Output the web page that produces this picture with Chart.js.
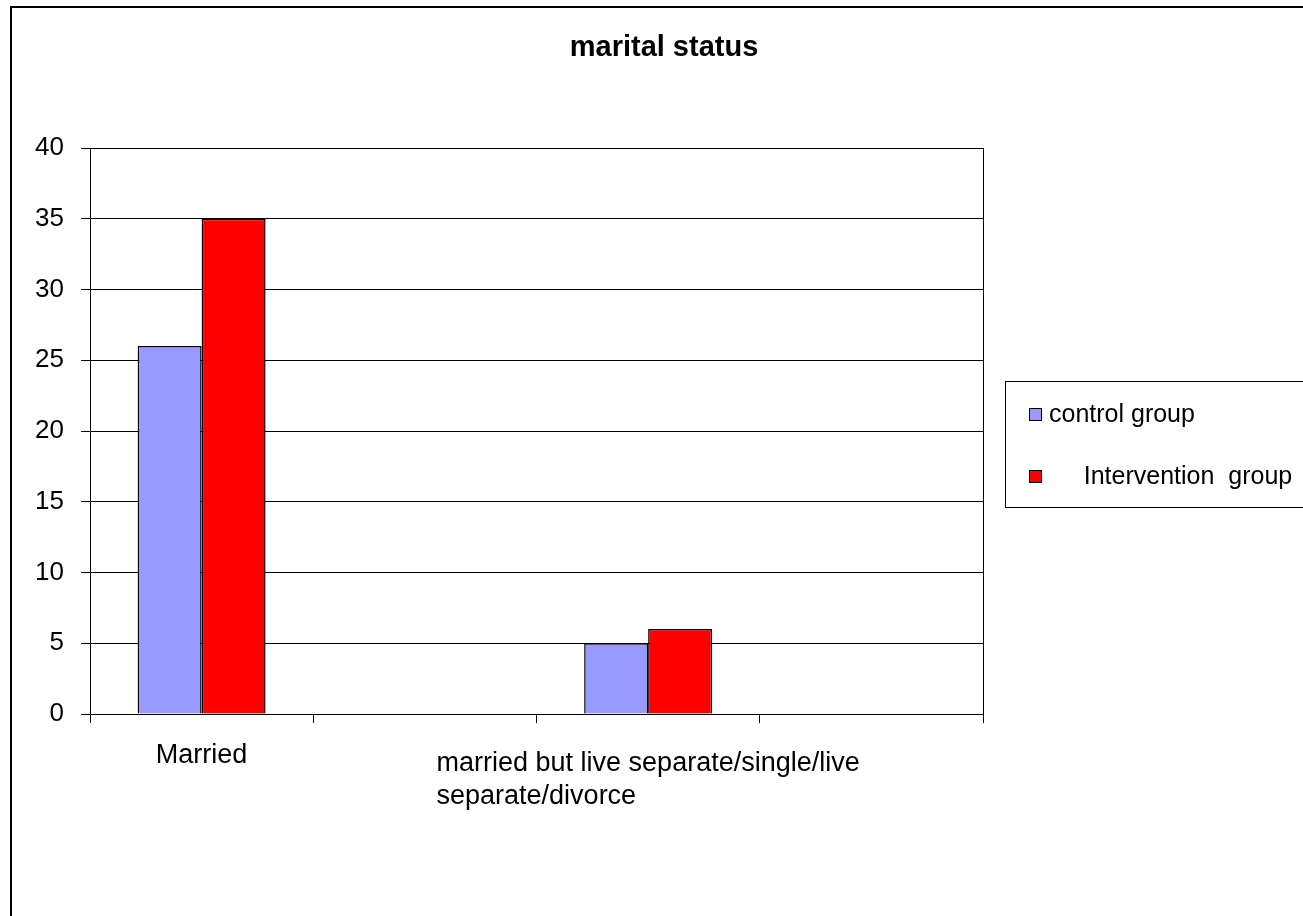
<!DOCTYPE html>
<html>
<head>
<meta charset="utf-8">
<title>marital status</title>
<script src="https://cdn.jsdelivr.net/npm/chart.js@4.4.0/dist/chart.umd.min.js"></script>
<style>
  html, body { margin: 0; padding: 0; background: #fff; }
</style>
</head>
<body>
<canvas id="marital-chart" width="1303" height="916"></canvas>
<script>
const chartTitle = 'marital status';
const categories = [['Married'], [''], ['married but live separate/single/live', 'separate/divorce'], ['']];
const controlGroup = [26, null, 5, null];
const interventionGroup = [35, null, 6, null];
const seriesNames = ['control group', '     Intervention  group'];
const yMax = 40;
const yStep = 5;

const fontFamily = "'Liberation Sans', Arial, sans-serif";
const maritalCanvas = document.querySelector('#marital-chart');

// draws the excel-like frame, title, category labels and boxed legend
const excelLook = {
    id: 'excelLook',
    beforeDraw(chart) {
        const ctx = chart.ctx;
        ctx.save();
        ctx.fillStyle = '#fff';
        ctx.fillRect(0, 0, chart.width, chart.height);
        ctx.restore();
    },
    afterDraw(chart) {
        const { ctx, chartArea } = chart;
        const xs = chart.scales.x;
        ctx.save();

        // right edge of plot area
        ctx.strokeStyle = '#000';
        ctx.lineWidth = 1;
        ctx.beginPath();
        ctx.moveTo(Math.round(chartArea.right) + 0.5, chartArea.top);
        ctx.lineTo(Math.round(chartArea.right) + 0.5, chartArea.bottom);
        ctx.stroke();

        // outer chart frame
        ctx.lineWidth = 2;
        ctx.strokeRect(11, 7, 1400, 1000);

        // title
        ctx.fillStyle = '#000';
        ctx.font = 'bold 29px ' + fontFamily;
        ctx.textAlign = 'center';
        ctx.textBaseline = 'middle';
        ctx.fillText(chartTitle, 664, 48);

        // category labels
        ctx.font = '27px ' + fontFamily;
        ctx.textAlign = 'left';
        categories.forEach((lines, i) => {
            const cx = xs.getPixelForTick(i);
            const w = Math.max(...lines.map(l => ctx.measureText(l).width));
            const y0 = xs.bottom + 33 + (lines.length - 1) * 8;
            lines.forEach((line, j) => {
                ctx.fillText(line, cx - w / 2, y0 + j * 33);
            });
        });

        // legend box
        const lx = chartArea.right + 22;
        const ly = 381;
        ctx.lineWidth = 1;
        ctx.strokeStyle = '#000';
        ctx.strokeRect(Math.round(lx) + 0.5, ly + 0.5, 400, 126);
        ctx.font = '25px ' + fontFamily;
        chart.data.datasets.forEach((ds, i) => {
            const y = ly + 33 + i * 62;
            ctx.fillStyle = ds.backgroundColor;
            ctx.fillRect(lx + 24, y - 6, 13, 13);
            ctx.strokeRect(lx + 24.5, y - 5.5, 12, 12);
            ctx.fillStyle = '#000';
            ctx.fillText(ds.label, lx + 44, y + 1);
        });

        ctx.restore();
    }
};

const maritalChart = new Chart(maritalCanvas, {
    type: 'bar',
    data: {
        labels: categories,
        datasets: [{
            label: seriesNames[0],
            data: controlGroup,
            backgroundColor: '#9999FF',
            borderColor: '#000',
            borderWidth: 1.5,
        }, {
            label: seriesNames[1],
            data: interventionGroup,
            backgroundColor: '#FF0000',
            borderColor: '#000',
            borderWidth: 1.5,
        }]
    },
    options: {
        responsive: false,
        animation: false,
        categoryPercentage: 0.573,
        barPercentage: 1,
        layout: {
            padding: { left: 0, top: 148, right: 320, bottom: 193 }
        },
        plugins: {
            legend: { display: false },
            title: { display: false },
            tooltip: { enabled: false },
        },
        scales: {
            x: {
                grid: {
                    offset: true,
                    drawOnChartArea: false,
                    color: '#000',
                    tickColor: '#000',
                    tickLength: 9,
                },
                border: { color: '#000' },
                ticks: { display: false },
                afterFit: (scale) => { scale.height = 9; },
            },
            y: {
                min: 0,
                max: yMax,
                ticks: {
                    stepSize: yStep,
                    color: '#000',
                    padding: 17,
                    font: { family: fontFamily, size: 26 },
                },
                grid: {
                    color: '#000',
                    tickColor: '#000',
                    tickLength: 9,
                },
                border: { color: '#000' },
                afterFit: (scale) => { scale.width = 90; },
            },
        },
    },
    plugins: [excelLook],
});
</script>
</body>
</html>
